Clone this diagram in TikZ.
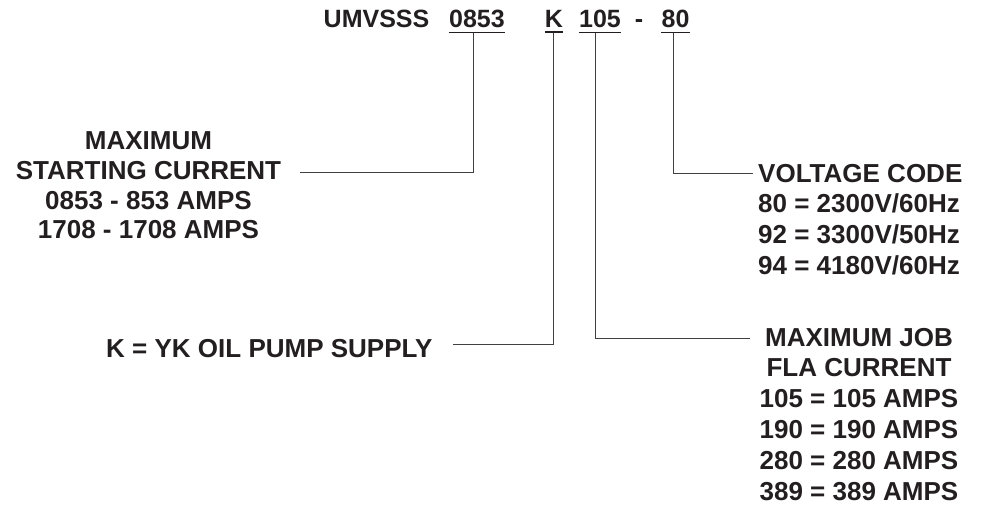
\documentclass[tikz,border=0pt]{standalone}
\usepackage{fontspec}
\setmainfont{Liberation Sans}
\usetikzlibrary{positioning}
\definecolor{inkblack}{RGB}{35,31,32}

\begin{document}
\begin{tikzpicture}[x=1pt,y=-1pt,
  every node/.style={inner sep=0pt,text=inkblack},
  code/.style={font=\fontsize{25}{30}\selectfont\bfseries,anchor=base},
  lbl/.style={font=\fontsize{26}{30.8}\selectfont\bfseries,anchor=base},
  uline/.style={draw=inkblack,line width=1.4pt},
  lead/.style={draw=black!75,line width=0.9pt}]
\useasboundingbox (0,0) rectangle (982,510);
% model number
\node[code] (umv) at (376.5,28) {UMVSSS};
\node[code] (c0853) at (477,28) {0853};
\node[code] (ck) at (554,28) {K};
\node[code] (c105) at (600,28) {105};
\node[code] (dash) at (639,28) {-};
\node[code] (c80) at (675.5,28) {80};
\foreach \n in {c0853,ck,c105,c80}
  \draw[uline] ([yshift=-4pt]\n.south west) -- ([yshift=-4pt]\n.south east);
% descriptions (base = last line)
\node[lbl,align=center,font=\fontsize{26}{29.7}\selectfont\bfseries] (startlbl) at (148.5,239)
  {MAXIMUM\\STARTING CURRENT\\0853 - 853 AMPS\\1708 - 1708 AMPS};
\node[lbl,anchor=base west] (klbl) at (106,357) {K = YK OIL PUMP SUPPLY};
\node[lbl,align=left,anchor=base west] (voltlbl) at (758,274.5)
  {VOLTAGE CODE\\80 = 2300V/60Hz\\92 = 3300V/50Hz\\94 = 4180V/60Hz};
\node[lbl,align=center] (joblbl) at (859,500)
  {MAXIMUM JOB\\FLA CURRENT\\105 = 105 AMPS\\190 = 190 AMPS\\280 = 280 AMPS\\389 = 389 AMPS};
% leader ends
\coordinate (startpt) at (300,172);
\coordinate (kpt) at (453,344);
\coordinate (jobpt) at (750,338);
\coordinate (voltpt) at (753,173);
% leaders
\draw[lead] ([xshift=-4pt,yshift=-5pt]c0853.south) |- (startpt);
\draw[lead] ([xshift=-1pt,yshift=-5pt]ck.south) |- (kpt);
\draw[lead] ([xshift=-5pt,yshift=-5pt]c105.south) |- (jobpt);
\draw[lead] ([xshift=-2.5pt,yshift=-5pt]c80.south) |- (voltpt);
\end{tikzpicture}
\end{document}
